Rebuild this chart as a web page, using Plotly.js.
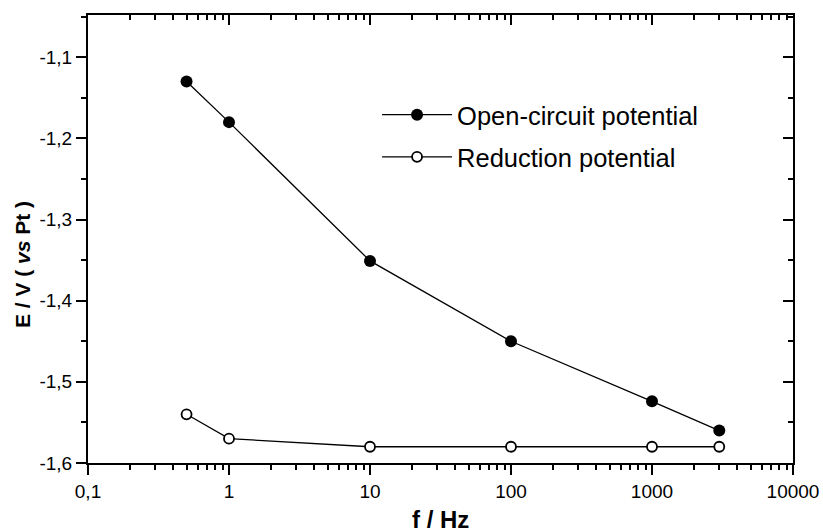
<!DOCTYPE html>
<html><head><meta charset="utf-8">
<script src="https://cdn.plot.ly/plotly-3.0.1.min.js"></script>
<style>body{margin:0;background:#fff}#chart{width:823px;height:532px}</style>
</head><body><div id="chart"></div>
<script>
const freq = [0.5, 1, 10, 100, 1000, 3000];
const openCircuit = [-1.13, -1.18, -1.351, -1.45, -1.524, -1.56];
const reduction = [-1.54, -1.57, -1.58, -1.58, -1.58, -1.58];
const xTickVals = [0.1, 1, 10, 100, 1000, 10000];
const xTickText = ['0,1', '1', '10', '100', '1000', '10000'];
const yTickVals = [-1.6, -1.5, -1.4, -1.3, -1.2, -1.1];
const yTickText = ['-1,6', '-1,5', '-1,4', '-1,3', '-1,2', '-1,1'];
const seriesNames = ['Open-circuit potential', 'Reduction potential'];
const xTitle = 'f / Hz';
const yTitle = 'E / V ( <i>vs</i> Pt )';

const minorX = [];
for (let e = -1; e < 4; e++) for (let d = 2; d <= 9; d++) minorX.push(d * Math.pow(10, e));
const xRange = [-1, 4];
const yRange = [-1.6, -1.048];
const font = 'Liberation Sans, Arial, sans-serif';

const traces = [
  {x: freq, y: openCircuit, name: seriesNames[0], mode: 'lines+markers', legendgroup: 'a',
   line: {color: '#000', width: 1.3}, marker: {symbol: 'circle', size: 12, color: '#000'}},
  {x: freq, y: reduction, name: seriesNames[1], mode: 'lines+markers', legendgroup: 'b',
   line: {color: '#000', width: 1.3}, marker: {symbol: 'circle', size: 10, color: '#fff', line: {color: '#000', width: 1.8}}}
];
traces.push({x: [1], y: [-1.3], xaxis: 'x2', yaxis: 'y2', mode: 'markers', marker: {opacity: 0}, showlegend: false, hoverinfo: 'skip'});

const tickCommon = {tickcolor: '#000', tickwidth: 2, showline: true, linewidth: 2, linecolor: '#000', showgrid: false, zeroline: false};

const layout = {
  width: 823, height: 532,
  margin: {l: 88, r: 30, t: 15, b: 69},
  paper_bgcolor: '#fff', plot_bgcolor: '#fff',
  font: {family: font, color: '#000', size: 19},
  showlegend: true,
  legend: {x: 0.41, y: 0.829, xanchor: 'left', yanchor: 'top', bgcolor: 'rgba(0,0,0,0)',
           font: {family: font, size: 25.5}, itemwidth: 70, traceorder: 'grouped', tracegroupgap: 6},
  xaxis: Object.assign({type: 'log', range: xRange, tickmode: 'array', tickvals: xTickVals, ticktext: xTickText,
          ticks: 'outside', ticklen: 10,
          minor: {tickmode: 'array', tickvals: minorX, ticks: 'outside', ticklen: 5, tickwidth: 2, tickcolor: '#000', showgrid: false},
          tickfont: {size: 19}}, tickCommon),
  yaxis: Object.assign({range: yRange, tickmode: 'array', tickvals: yTickVals, ticktext: yTickText,
          ticks: 'outside', ticklen: 10, ticklabelstandoff: 0,
          minor: {tickmode: 'linear', tick0: -1.65, dtick: 0.1, ticks: 'outside', ticklen: 5, tickwidth: 2, tickcolor: '#000', showgrid: false},
          tickfont: {size: 19}}, tickCommon),
  xaxis2: Object.assign({type: 'log', range: xRange, overlaying: 'x', side: 'top', anchor: 'y2',
           tickmode: 'array', tickvals: xTickVals, showticklabels: false, ticks: 'inside', ticklen: 10,
           minor: {tickmode: 'array', tickvals: minorX, ticks: 'inside', ticklen: 5, tickwidth: 2, tickcolor: '#000', showgrid: false}}, tickCommon),
  yaxis2: Object.assign({range: yRange, overlaying: 'y', side: 'right', anchor: 'x2',
           tickmode: 'array', tickvals: yTickVals, showticklabels: false, ticks: 'inside', ticklen: 10,
           minor: {tickmode: 'linear', tick0: -1.65, dtick: 0.1, ticks: 'inside', ticklen: 5, tickwidth: 2, tickcolor: '#000', showgrid: false}}, tickCommon),
  annotations: [
    {text: '<b>' + xTitle + '</b>', xref: 'paper', yref: 'paper', x: 0.5, y: -0.125, xanchor: 'center', yanchor: 'middle',
     showarrow: false, font: {family: font, size: 24, color: '#000'}},
    {text: '<b>' + yTitle + '</b>', xref: 'paper', yref: 'paper', x: -0.092, y: 0.442, xanchor: 'center', yanchor: 'middle',
     textangle: -90, showarrow: false, font: {family: font, size: 21, color: '#000'}}
  ]
};

Plotly.newPlot('chart', traces, layout, {displayModeBar: false, staticPlot: true});
</script></body></html>
